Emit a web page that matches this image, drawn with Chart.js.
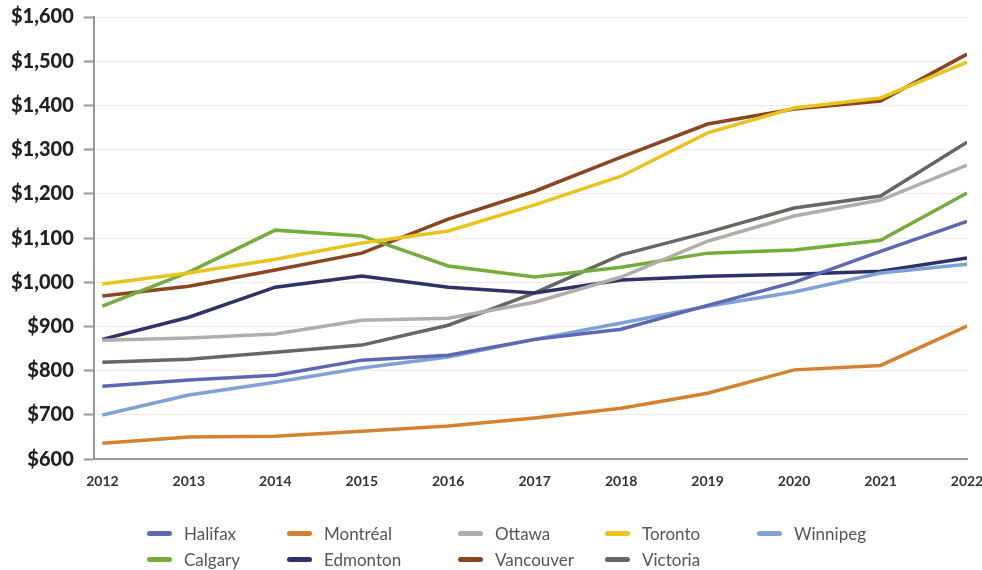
<!DOCTYPE html>
<html>
<head>
<meta charset="utf-8">
<script src="https://cdn.jsdelivr.net/npm/chart.js@4.4.0/dist/chart.umd.min.js"></script>
<style>
  html, body { margin: 0; padding: 0; background: #fff; }
  #wrap { position: relative; width: 982px; height: 570px; }
  #legend { position: absolute; left: 0; top: 0; width: 982px; height: 570px; pointer-events: none;
            font-family: Lato, "Open Sans", sans-serif; font-size: 17px; color: #555; }
  .item { position: absolute; display: flex; align-items: center; height: 22px; }
  .swatch { width: 25px; height: 5px; border-radius: 3px; margin-right: 12px; }
</style>
</head>
<body>
<div id="wrap">
  <canvas id="myChart" width="982" height="570"></canvas>
  <div id="legend"></div>
</div>
<script>
const years = [2012, 2013, 2014, 2015, 2016, 2017, 2018, 2019, 2020, 2021, 2022];

const halifax   = [765, 779, 790, 824, 835, 871, 894, 948, 1000, 1070, 1138];
const montreal  = [636, 650, 652, 663, 675, 693, 715, 749, 802, 812, 901];
const ottawa    = [869, 874, 883, 914, 919, 955, 1012, 1093, 1150, 1186, 1265];
const toronto   = [996, 1021, 1052, 1089, 1116, 1175, 1240, 1338, 1394, 1417, 1498];
const winnipeg  = [700, 745, 774, 806, 831, 871, 908, 946, 978, 1021, 1041];
const calgary   = [946, 1023, 1118, 1105, 1037, 1012, 1034, 1066, 1073, 1095, 1202];
const edmonton  = [871, 921, 989, 1014, 989, 976, 1005, 1014, 1018, 1025, 1055];
const vancouver = [969, 991, 1028, 1066, 1143, 1206, 1283, 1358, 1392, 1410, 1516];
const victoria  = [819, 826, 842, 858, 903, 976, 1062, 1113, 1168, 1195, 1317];

const yTicks = [600, 700, 800, 900, 1000, 1100, 1200, 1300, 1400, 1500, 1600];

const series = [
  { label: "Halifax",   data: halifax,   color: "#5c68b1" },
  { label: "Montréal",  data: montreal,  color: "#d4822f" },
  { label: "Ottawa",    data: ottawa,    color: "#b1aea9" },
  { label: "Toronto",   data: toronto,   color: "#e9c41d" },
  { label: "Winnipeg",  data: winnipeg,  color: "#7fa2d6" },
  { label: "Calgary",   data: calgary,   color: "#74ad3c" },
  { label: "Edmonton",  data: edmonton,  color: "#2f3169" },
  { label: "Vancouver", data: vancouver, color: "#8a4621" },
  { label: "Victoria",  data: victoria,  color: "#666664" }
];

// legend positions (left edge of swatch, row top)
const legendPos = [
  [147, 522], [287, 522], [458, 522], [605, 522], [757, 522],
  [147, 548], [287, 548], [458, 548], [605, 548]
];

const datasets = series.map(s => ({
  label: s.label,
  data: s.data.map((v, i) => ({ x: years[i], y: v })),
  borderColor: s.color,
  backgroundColor: s.color,
  borderWidth: 3.5,
  pointRadius: 0,
  fill: false,
  tension: 0
}));

let ctx = document.getElementById("myChart");
let myChart = new Chart(ctx, {
  type: "line",
  data: { datasets: datasets },
  options: {
    responsive: false,
    animation: false,
    layout: { padding: { left: 1, right: 15, top: 0, bottom: 66 } },
    plugins: { legend: { display: false }, tooltip: { enabled: false } },
    scales: {
      x: {
        type: "linear",
        min: 2011.9,
        max: 2022,
        afterBuildTicks: axis => {
          axis.ticks = years.map(v => ({ value: v }));
        },
        afterFit: axis => {
          axis.paddingRight = 0;
        },
        ticks: {
          color: "#333",
          font: { family: "Lato", size: 14, weight: "bold" },
          padding: 14,
          autoSkip: false,
          maxRotation: 0,
          callback: v => String(v)
        },
        grid: { drawOnChartArea: false, drawTicks: false },
        border: { color: "#999", width: 2 }
      },
      y: {
        min: 600,
        max: 1600,
        afterBuildTicks: axis => {
          axis.ticks = yTicks.map(v => ({ value: v }));
        },
        afterFit: axis => {
          axis.paddingTop = Math.max(0, axis.paddingTop - 5);
        },
        ticks: {
          color: "#222",
          font: { family: "Lato", size: 20, weight: "900" },
          padding: 10,
          callback: v => "$" + v.toLocaleString("en-US")
        },
        grid: { color: "#ececec", tickColor: "#999", tickLength: 10, tickWidth: 2 },
        border: { color: "#999", width: 2 }
      }
    }
  }
});

const legend = document.getElementById("legend");
series.forEach((s, i) => {
  const item = document.createElement("div");
  item.className = "item";
  item.style.left = legendPos[i][0] + "px";
  item.style.top = legendPos[i][1] + "px";
  item.innerHTML = `<span class="swatch" style="background:${s.color}"></span><span>${s.label}</span>`;
  legend.appendChild(item);
});
</script>
</body>
</html>
